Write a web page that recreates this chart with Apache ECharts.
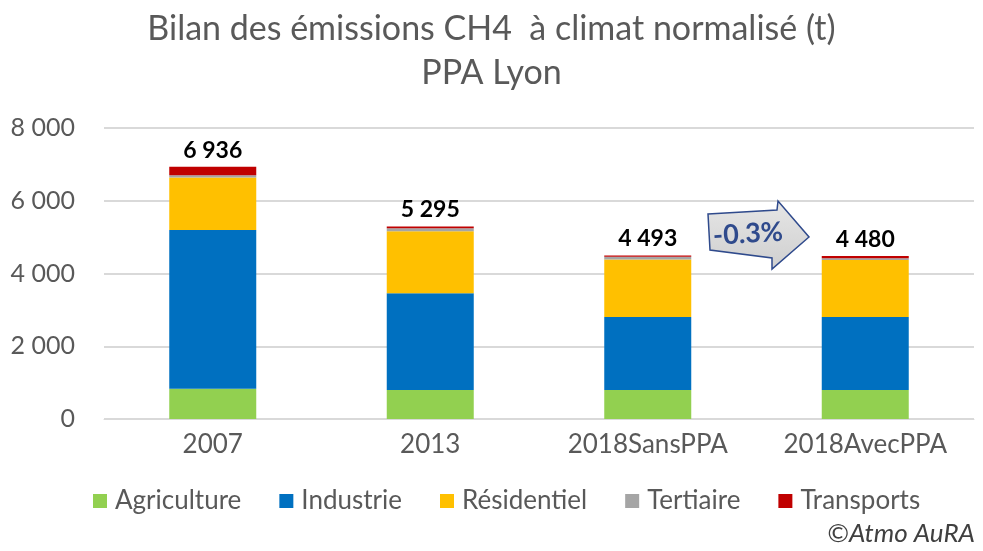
<!DOCTYPE html>
<html>
<head>
<meta charset="utf-8">
<script src="https://cdn.jsdelivr.net/npm/echarts@6/dist/echarts.min.js"></script>
<style>html,body{margin:0;padding:0;background:#fff;}#c{width:983px;height:551px;}</style>
</head>
<body>
<div id="c"></div>
<script>
const categories = ['2007', '2013', '2018SansPPA', '2018AvecPPA'];
const agriculture = [830, 795, 795, 795];
const industrie = [4367, 2665, 2008, 2008];
const residentiel = [1441, 1699, 1581, 1570];
const tertiaire = [66, 82, 74, 45];
const transports = [232, 54, 35, 62];
const totals = [6936, 5295, 4493, 4480];
const yTicks = [0, 2000, 4000, 6000, 8000];
const titleLines = ['Bilan des émissions CH4  à climat normalisé (t)', 'PPA Lyon'];
const changeLabel = '-0.3%';
const credit = '©Atmo AuRA';

const FONT = 'Lato';
const fmt = v => String(v).replace(/\B(?=(\d{3})+(?!\d))/g, ' ');

const chart = echarts.init(document.getElementById('c'), null, {renderer: 'canvas'});
const names = ['Agriculture', 'Industrie', 'Résidentiel', 'Tertiaire', 'Transports'];
const colors = ['#92d050', '#0070c0', '#ffc000', '#a5a5a5', '#c00000'];
const datasets = [agriculture, industrie, residentiel, tertiaire, transports];

const series = names.map((n, i) => ({
  name: n, type: 'bar', stack: 'tot', barWidth: '40%',
  data: datasets[i], itemStyle: {color: colors[i]},
  emphasis: {disabled: true}
}));
series.push({
  name: 'total', type: 'bar', stack: 'tot', barWidth: '40%',
  data: totals.map(() => 0),
  itemStyle: {color: 'transparent'},
  label: {
    show: true, position: 'top', distance: 5,
    formatter: p => fmt(totals[p.dataIndex]),
    fontFamily: FONT, fontWeight: 'bold', fontSize: 23, color: '#000'
  },
  silent: true
});

chart.setOption({
  animation: false,
  color: colors,
  title: {
    text: titleLines.join('\n'), left: 'center', top: 2,
    textStyle: {fontFamily: FONT, fontWeight: 'normal', fontSize: 34, color: '#595959', lineHeight: 44}
  },
  legend: {
    data: names, bottom: 32, left: 88, itemWidth: 14, itemHeight: 14, itemGap: 38,
    icon: 'rect',
    textStyle: {fontFamily: FONT, fontSize: 26, color: '#595959', padding: [0, 0, 0, 3]}
  },
  grid: {left: 104, right: 9, top: 128, bottom: 132},
  xAxis: {
    type: 'category', data: categories,
    axisLine: {lineStyle: {color: '#d9d9d9', width: 1}},
    axisTick: {show: false},
    axisLabel: {fontFamily: FONT, fontSize: 26, color: '#595959', margin: 13}
  },
  yAxis: {
    type: 'value', min: 0, max: 8000, interval: 2000,
    axisLine: {show: false}, axisTick: {show: false},
    splitLine: {lineStyle: {color: '#d9d9d9', width: 2}},
    axisLabel: {fontFamily: FONT, fontSize: 25, color: '#595959', margin: 29, formatter: v => fmt(v)}
  },
  series: series,
  graphic: [
    {
      type: 'polygon', z: 100,
      shape: {points: [[708, 214], [777, 210], [778, 201], [809, 237], [772, 269], [772, 258], [710, 250]]},
      style: {
        fill: new echarts.graphic.LinearGradient(0, 0, 0, 1, [{offset: 0, color: '#e6e6e6'}, {offset: 1, color: '#cfcfcf'}]),
        stroke: '#2f4a8c', lineWidth: 1.5
      }
    },
    {
      type: 'text', z: 101, x: 748, y: 234, rotation: 0.06,
      style: {text: changeLabel, fill: '#2f4a8c', font: 'bold 27px Lato', align: 'center', verticalAlign: 'middle'}
    },
    {
      type: 'text', right: 8, bottom: 4,
      style: {text: credit, fill: '#404040', font: 'italic 26px Lato'}
    }
  ]
});
</script>
</body>
</html>
